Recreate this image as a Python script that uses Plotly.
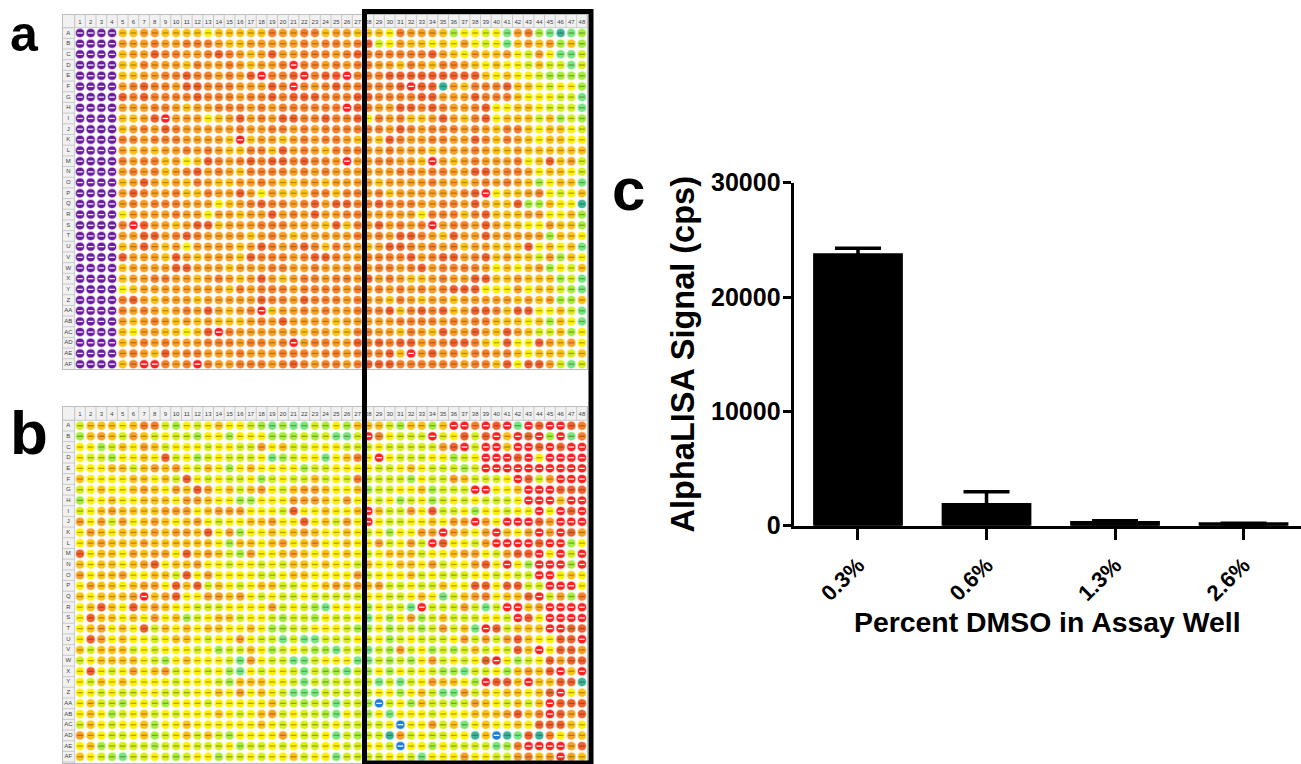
import plotly.graph_objects as go

W, H = 1301, 764
FONT = "Liberation Sans"

# ---------- panel c data ----------
dmso_labels = ["0.3%", "0.6%", "1.3%", "2.6%"]
signal_cps = [23700, 1850, 290, 170]
signal_err = [560, 1120, 150, 40]
y_ticks = [0, 10000, 20000, 30000]

# ---------- plate layout ----------
row_labels = ["A","B","C","D","E","F","G","H","I","J","K","L","M","N","O","P","Q","R","S","T",
              "U","V","W","X","Y","Z","AA","AB","AC","AD","AE","AF"]
col_labels = list(range(1, 49))

# well colour classes, one string per plate row (spaces only group columns)
plate_a = [
 "PPPP aammaaaayaaaaaomm ooamma aayommmagyylyGmogGtGg",
 "PPPP mmmommooomaammmmm omoomo slymaayaymylyGamamgag",
 "PPPP ammsoommosomamsmm ooomos oooooosmaymaamylmyGGl",
 "PPPP aaommmaommomammoR oomomo ommaomaoomayayylallGl",
 "PPPP aammoosoomomsRoos RossRo oosssssssssayayylgggg",
 "PPPP mosoomssooommmsoR omosoo ooosRsstmaooosaaylyyg",
 "PPPP sosoooosooomoosos ssooos soooossmmmsoooayyyllG",
 "PPPP mmmoomammooomomoo ooooRs ommssosommosyyaaylllG",
 "PPPP aamsRmmmyamsmomss oosoos yomoaamsmaosyaaalaglg",
 "PPPP amomsommmmmommoom omoooo oomsomooomomaooayaayl",
 "PPPP oomooommmmaRammam omooma masommoommsoaomayaayy",
 "PPPP mamammomomaaooasm omaooo mmommmammmomaamaaaaaa",
 "PPPP omooamyasomososso soomRm moommaRmamommmoyasaml",
 "PPPP momoamosmomaoooom omommm mmmoomoommssmoomyaayl",
 "PPPP amsmamaomaammomaa mmammm mammmmommamomomagyaaG",
 "PPPP msommoaaommsmymaaaooaoo moammmmmmosRyaamoylya",
 "PPPP momooommmyamosoomosmsso osooommoomsmaasggayyt",
 "PPPP ymmmmommymmammsmomsmmoo mmmmmyoooaosaaammyyag",
 "PPPP oRsmmamssammmooommmasao msmomoRmoomsmaayymaag",
 "PPPP mmssmosommmmamomammmmmo momssomasmmsmmmmmgaay",
 "PPPP amsmamymmmmamsomosoaomm amssomomoammaaasyayaG",
 "PPPP smmmasmammmasooomossomm oooosmossmosamaalmgay",
 "PPPP ammmmssmmmammmoommommmo moomosmoooomyayamgyla",
 "PPPP ammoommamomamsmamoomoom smomaamommssaamaaaglG",
 "PPPP yammmmmmmmaomooomoooomo momomomosssyyymyaalgG",
 "PPPP osmammmammmmmsoomsooomo mmaomammammmmmamamgga",
 "PPPP omomamomsmamoRammomommo oosaososamssoassyyalG",
 "PPPP mamomamamaaamomsmmmmamm mmmoooomomooaaayagayG",
 "PPPP aymmaayasRommmmmmammaao ommaomasmmsmasmallagy",
 "PPPP amomommmooomoomoRmoomms ososs moossoaysyysmamy",
 "PPPP momasmoommmommmooomoomo oosaRmsmoaoomoayaaala",
 "PPPP aoRRomoRommooomosomoomo sssoooooomooasyssmlGl",
]

plate_b = [
 "laaay aoolg ylyay ylgGg GGlgy ga aalgaagaRRoRsRGRsRRso",
 "gamal malyl lgyyg yyygg glglG Gl RoylllRlyslsRaRsRgRGo",
 "yygla ymaly yylyy llmya llyyy ll lylllllmsRlRRaRRsRsRR",
 "yllgy yaysl yglyl llyGg lyyGy ao yRylllyyglyRRRsRyRRRR",
 "yyyaa lamam ylayg yayyy yglly yy yllyaylllglRRRRRRRRRR",
 "ayyyy aayal sylyl lygly llaly lo llllgyllmalllyRslmRRR",
 "lyayy amaym asmya lamyl ammay ya gllyyaglllRRyyaRRRsss",
 "gyyay yaaay mmayy ggyyy mmmay my ylyglyglylylllyRRRaRR",
 "lyama aaamm myamm myyyl syyay ya RallmysllygyylyyRyRsR",
 "mymlm yamay amyly yaamy ysyal my RyllyyaymmRmyRRRsmRRR",
 "ymaya aamam masym gyyay amayy ay lygyymmRmaymRaymRmRsm",
 "yamaa amaaa aaayg aayam yamyy ay ymlymlRsyylmRRRRsRRgy",
 "syaay mammy samal gmyya mayay ay lyaaalyyammylmssRyRlR",
 "ayaay amsya amyyl yylyl aayay yl ayyaaymlyymsyRygRRRgR",
 "myaam yyaal symyy yylly aayyy ym lyyyalylllyylyllRRyay",
 "ymaay ammys aslay lyaal lyyam am amllyllayyssyssllRRRy",
 "ayaaa mRams yymma mylyl lylll ll yyllyayGlamoyaasRlmgo",
 "yasay samay yllly yyyml ylgGy yy gyllGRlllmlGlRRamRRRR",
 "ysaay aymya glyaa lyylg llgyl ly GygymglalllyylRsyRRRR",
 "yamya yslay ayaay yaygg llyyy lg gygllglmlaGRslaaaRRss",
 "ysmya yylya aylyy myllG lGGll ly lyglylllymlmlmsayyssR",
 "alaaa lylyy ylygl laygl ylggG ll GlgmlyglglalylsaRyssm",
 "lyaaa aylgy ayyyl Gmyll GGlyy yG GlglgymlylysRyglysmss",
 "ysyly myaml yylyg Gylyy lGlgg Gl gygylylggGllygamasRaR",
 "ylaya yyyyl yyylg aaayy lGlgl ll lGlGlymaaygRssaRaasst",
 "yylyl lyyll lyyay myayl GGGll ll lyygyalGGmlayaayasRya",
 "yallg yylgy yylyy yyyal lgllG ll gblygallglmaylalaRsss",
 "yaygl yalyl yyyay lyaml yllgG yl gyGyyylyyyaaamsaoRsms",
 "layly yagyy ayyyy yyayl yllly ll llybyymlaGyayyaysssay",
 "mayll yagly alalg yyyym yllyG lg lltmlyllyytabtGstoyma",
 "yagll llgll yllly gllyl yllyy ll yylbyygyllllGgoRRRRms",
 "aylgG llylg lyygl lylyy alyyG ll llyylGyyymyyllmoamRma",
]

# ---------- styles ----------
well_colors = {
    "P": "#6a1b9f", "R": "#ff1f1f", "s": "#f2602c", "o": "#f7822b", "m": "#faa024",
    "a": "#fdc214", "y": "#fff200", "l": "#d6f01c", "g": "#a6ee3c", "G": "#74e87c",
    "t": "#38b597", "b": "#1b7fd8",
}
light_center = set("PRb")

def px_x(px):
    return 1 + (px - 80) / 10.68

fig = go.Figure()

def add_plate(rows, xaxis, yaxis):
    xs, ys, cols, centers = [], [], [], []
    for r, row in enumerate(rows, start=1):
        cells = row.replace(" ", "")
        assert len(cells) == 48, (r, len(cells), row)
        for c, code in enumerate(cells, start=1):
            xs.append(c); ys.append(r)
            cols.append(well_colors[code])
            centers.append("rgba(255,255,255,0.95)" if code in light_center else "rgba(70,40,0,0.4)")
    # soft halo, well, value mark
    fig.add_trace(go.Scatter(x=xs, y=ys, mode="markers", xaxis=xaxis, yaxis=yaxis, hoverinfo="skip",
                             marker=dict(size=9.8, color=cols, opacity=0.3, line=dict(width=0))))
    fig.add_trace(go.Scatter(x=xs, y=ys, mode="markers", xaxis=xaxis, yaxis=yaxis, hoverinfo="skip",
                             marker=dict(size=8, color=cols, line=dict(width=0))))
    fig.add_trace(go.Scatter(x=xs, y=ys, mode="markers", xaxis=xaxis, yaxis=yaxis, hoverinfo="skip",
                             marker=dict(symbol="line-ew", size=4, line=dict(width=1.3, color=centers))))
    # header texts
    fig.add_trace(go.Scatter(x=col_labels, y=[0] * 48, text=[str(c) for c in col_labels], mode="text",
                             xaxis=xaxis, yaxis=yaxis, hoverinfo="skip",
                             textfont=dict(family=FONT, size=6, color="#444444")))
    fig.add_trace(go.Scatter(x=[-0.09] * 32, y=list(range(1, 33)), text=row_labels, mode="text",
                             xaxis=xaxis, yaxis=yaxis, hoverinfo="skip",
                             textfont=dict(family=FONT, size=6, color="#444444")))

def plate_shapes(xname, yname, bottom_r, top_r):
    xr, yr = xname, yname
    left, right = px_x(62), px_x(588)
    shapes = [
        dict(type="rect", xref=xr, yref=yr, x0=left, x1=right, y0=top_r, y1=0.5,
             fillcolor="#f1f1f1", line=dict(width=0), layer="below"),
        dict(type="rect", xref=xr, yref=yr, x0=left, x1=0.5, y0=top_r, y1=bottom_r,
             fillcolor="#f1f1f1", line=dict(width=0), layer="below"),
    ]
    path = ""
    for c in range(0, 49):
        path += f"M {c + 0.5} {top_r} L {c + 0.5} 0.5 "
    for r in range(0, 33):
        path += f"M {left} {r + 0.5} L 0.5 {r + 0.5} "
    path += f"M {left} 0.5 L {right} 0.5 M 0.5 {top_r} L 0.5 {bottom_r}"
    shapes.append(dict(type="path", xref=xr, yref=yr, path=path, line=dict(color="#c9c9c9", width=1), layer="below"))
    shapes.append(dict(type="rect", xref=xr, yref=yr, x0=left, x1=right, y0=top_r, y1=bottom_r,
                       line=dict(color="#bdbdbd", width=2), layer="below"))
    return shapes

add_plate(plate_a, "x", "y")
add_plate(plate_b, "x2", "y2")

fig.add_trace(go.Bar(
    x=dmso_labels, y=signal_cps, xaxis="x3", yaxis="y3", width=0.675,
    marker=dict(color="black", line=dict(color="black", width=3)),
    error_y=dict(type="data", array=signal_err, visible=True, color="black", thickness=3.5, width=23),
    hoverinfo="skip",
))

def dom_x(a, b): return [a / W, b / W]
def dom_y(top, bottom): return [1 - bottom / H, 1 - top / H]

hidden = dict(visible=False, showgrid=False, zeroline=False)
x_range = [px_x(62), px_x(588)]
shapes = []
shapes += plate_shapes("x", "y", 32.55, -0.78)
shapes += plate_shapes("x2", "y2", 32.68, -0.84)
# black selection box across both plates
shapes.append(dict(type="rect", xref="paper", yref="paper",
                   x0=364.5 / W, x1=591 / W, y0=1 - 763 / H, y1=1 - 11.5 / H,
                   line=dict(color="black", width=5), layer="above"))

def letter(text, x, bottom, size):
    return dict(text=text, xref="paper", yref="paper", x=x / W, y=1 - bottom / H, showarrow=False,
                xanchor="center", yanchor="bottom", font=dict(family=FONT, size=size, color="black", weight=700))

fig.update_layout(
    width=W, height=H, margin=dict(l=0, r=0, t=0, b=0, pad=0, autoexpand=False), autosize=False,
    paper_bgcolor="white", plot_bgcolor="white", showlegend=False,
    xaxis=dict(domain=dom_x(62, 588), range=x_range, anchor="y", automargin=False, **hidden),
    yaxis=dict(domain=dom_y(14, 370), range=[32.55, -0.78], anchor="x", automargin=False, **hidden),
    xaxis2=dict(domain=dom_x(62, 588), range=x_range, anchor="y2", automargin=False, **hidden),
    yaxis2=dict(domain=dom_y(406, 764), range=[32.68, -0.84], anchor="x2", automargin=False, **hidden),
    xaxis3=dict(domain=dom_x(793.6, 1301), anchor="y3", type="category", range=[-0.501, 3.447],
                automargin=False,
                showline=True, linecolor="black", linewidth=3, ticks="outside", ticklen=11,
                tickwidth=3, tickcolor="black", tickangle=-45, ticklabelstandoff=4,
                tickfont=dict(family=FONT, size=22, color="black", weight=700), showgrid=False, zeroline=False,
                title=dict(text="Percent DMSO in Assay Well", standoff=3,
                           font=dict(family=FONT, size=28.4, color="black", weight=700))),
    yaxis3=dict(domain=dom_y(182.7, 525.7), anchor="x3", range=[0, 30000], tickvals=y_ticks,
                automargin=False,
                showline=True, linecolor="black", linewidth=3, ticks="outside", ticklen=8,
                tickwidth=3, tickcolor="black", showgrid=False, zeroline=False, tickformat="d",
                ticklabelstandoff=-3,
                tickfont=dict(family=FONT, size=25, color="black", weight=700),
                title=dict(text="AlphaLISA Signal (cps)", standoff=7,
                           font=dict(family=FONT, size=32.5, color="black", weight=700))),
    shapes=shapes,
    annotations=[letter("a", 24.5, 64, 50), letter("b", 29, 469, 62), letter("c", 628, 224.7, 60)],
)

fig.write_html("out.html", config=dict(displayModeBar=False, responsive=False),
               post_script="document.body.style.margin='0';document.documentElement.style.overflow='hidden';")
